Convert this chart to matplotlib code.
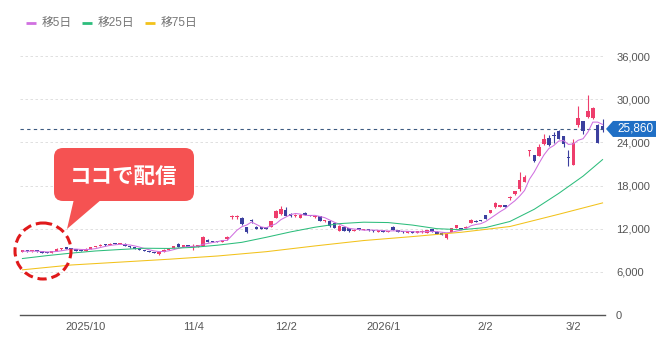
import numpy as np
import pandas as pd
import matplotlib.pyplot as plt
from matplotlib.patches import FancyBboxPatch, Polygon, Circle

plt.rcParams['font.family'] = ['Liberation Sans', 'Noto Sans CJK JP', 'DejaVu Sans']

# daily candles (yen)
opens = [8820, 8880, 8840, 8900, 8800, 8660, 8650, 8950, 9150, 9300,
         9220, 9100, 8960, 8950, 9200, 9450, 9600, 9800, 9700, 9950,
         9850, 9900, 9600, 9420, 9220, 9030, 8900, 8760, 8500, 8800,
         9080, 9350, 9900, 9500, 9620, 9450, 9500, 9600, 10450, 10300,
         10250, 10150, 10500, 13650, 13650, 13500, 12250, 13050, 12300, 12200,
         12150, 12300, 13500, 14000, 14650, 14100, 13750, 13500, 14200, 13850,
         13600, 13700, 13000, 13000, 12800, 11700, 12200, 12100, 11700, 11950,
         11800, 11900, 11800, 11600, 11700, 11550, 12300, 11800, 11650, 11450,
         11600, 11450, 11500, 11400, 11900, 11600, 11450, 10700, 11600, 12100,
         12100, 12100, 12800, 13100, 13200, 13900, 14200, 14950, 15000, 15250,
         16200, 16750, 17450, 18500, 22750, 22200, 22100, 23700, 24550, 24950,
         25550, 24850, 22000, 20900, 26350, 26950, 27550, 27450, 26350, 26300]
closes = [8880, 8840, 8900, 8830, 8650, 8600, 8900, 9180, 9300, 9220,
          9160, 8960, 8920, 9200, 9450, 9600, 9750, 9700, 9880, 9850,
          9920, 9620, 9420, 9220, 9030, 8900, 8760, 8620, 8780, 9080,
          9330, 9600, 9520, 9600, 9500, 9550, 9580, 10880, 10200, 10150,
          10150, 10420, 10900, 13700, 13720, 12600, 11600, 13000, 12000, 12000,
          12020, 13000, 14400, 14800, 13800, 13700, 13850, 13950, 13950, 13750,
          13750, 13100, 13100, 12350, 12150, 12400, 11700, 11650, 11850, 11850,
          11900, 11750, 11650, 11750, 11600, 11650, 11850, 11600, 11500, 11550,
          11450, 11550, 11700, 11800, 11600, 11300, 11150, 11300, 12050, 12500,
          11950, 12300, 13200, 12950, 13050, 13400, 14600, 15500, 15300, 15050,
          16300, 17200, 18800, 19200, 22850, 21400, 23400, 24500, 23600, 24900,
          24500, 23700, 21850, 23950, 27450, 25550, 28350, 28750, 23950, 25860]
highs = [8930, 8920, 8950, 8930, 8830, 8700, 8950, 9250, 9350, 9350,
         9280, 9150, 9020, 9250, 9500, 9650, 9800, 9850, 9950, 10000,
         9980, 9950, 9650, 9450, 9250, 9060, 8930, 8800, 8820, 9120,
         9380, 9650, 9950, 9650, 9660, 9800, 9650, 10950, 10500, 10350,
         10300, 10480, 11000, 13950, 13950, 13600, 12300, 13300, 12350, 12250,
         12200, 13100, 14650, 15100, 15000, 14150, 14100, 14000, 14250, 13900,
         13800, 13750, 13150, 13050, 12850, 12450, 12250, 12150, 11900, 12000,
         11950, 11950, 11850, 11800, 11750, 11700, 12350, 11850, 11700, 11600,
         11650, 11600, 11750, 11850, 11950, 11650, 11500, 11350, 12100, 12550,
         12150, 12350, 13300, 13150, 13250, 13950, 14650, 15700, 15350, 15300,
         16600, 17300, 19900, 19500, 22900, 22250, 23700, 25200, 25000, 25400,
         25700, 24900, 23000, 24500, 29100, 27000, 30550, 28900, 26600, 27300]
lows = [8790, 8800, 8810, 8800, 8610, 8550, 8620, 8920, 9100, 9180,
        9120, 8920, 8870, 8920, 9150, 9400, 9550, 9650, 9680, 9800,
        9800, 9580, 9380, 9180, 8980, 8860, 8720, 8580, 8380, 8760,
        9050, 9300, 9480, 9450, 9450, 9100, 9450, 9550, 10150, 10100,
        10100, 10100, 10450, 13400, 13400, 12500, 11450, 12800, 11950, 11950,
        11980, 12250, 13450, 13950, 13750, 13650, 13600, 13450, 13900, 13700,
        13550, 13050, 12950, 12300, 12100, 11650, 11650, 11600, 11650, 11800,
        11750, 11700, 11600, 11550, 11550, 11500, 11800, 11550, 11450, 11400,
        11400, 11400, 11450, 11350, 11550, 11250, 11100, 10600, 11550, 12050,
        11900, 12050, 12750, 12900, 13000, 13350, 14150, 14900, 14950, 15000,
        16000, 16700, 17300, 18450, 22100, 21300, 22050, 23650, 23500, 23900,
        24450, 23400, 20700, 20800, 26100, 25100, 27400, 27300, 23900, 25500]

# 25-day and 75-day averages, read at a few points
ma25_idx = [0, 5, 10, 15, 20, 25, 30, 35, 40, 45, 50, 55, 60,
            65, 70, 75, 80, 85, 90, 95, 100, 105, 110, 115, 119]
ma25_val = [7850, 8250, 8600, 8900, 9100, 9280, 9250, 9400, 9700, 10100, 10800, 11550, 12200,
            12700, 12900, 12850, 12500, 12000, 11850, 12150, 13000, 14700, 16900, 19300, 21600]
ma75_idx = [0, 10, 20, 30, 40, 50, 60, 70, 80, 90, 100, 110, 119]
ma75_val = [6280, 6950, 7350, 7750, 8200, 8800, 9600, 10350, 10900, 11500, 12300, 14000, 15580]

tick_idx = [13, 35, 54, 74, 95, 113]
tick_lab = ["2025/10", "11/4", "12/2", "2026/1", "2/2", "3/2"]
yticks = [0, 6000, 12000, 18000, 24000, 30000, 36000]

UP, DOWN = "#ee3d6c", "#3b3f9e"
C5, C25, C75 = "#d070e0", "#2dbd7c", "#f2c21b"

o, c, h, l = map(np.array, (opens, closes, highs, lows))
x = np.arange(len(c))
up = c >= o
col = np.where(up, UP, DOWN)

fig = plt.figure(figsize=(6.68, 3.45), dpi=100)
ax = fig.add_axes([20/668, 30/345, 585/668, 259/345])

ax.vlines(x, l, h, colors=col, lw=0.8, zorder=2)
body = np.maximum(np.abs(c - o), 180)
ax.bar(x, body, bottom=np.minimum(o, c), width=0.72, color=col, zorder=2)

ma5 = pd.Series(c).rolling(5, min_periods=1).mean()
ax.plot(x, ma5, color=C5, lw=0.75, zorder=3)
ax.plot(ma25_idx, ma25_val, color=C25, lw=0.75, zorder=3)
ax.plot(ma75_idx, ma75_val, color=C75, lw=0.75, zorder=3)

ax.axhline(c[-1], color="#3d5a80", lw=0.8, ls=(0, (3, 3)), zorder=1)

ax.set_xlim(-0.5, len(c) - 0.5)
ax.set_ylim(0, 36000)
ax.set_xticks(tick_idx)
ax.set_xticklabels(tick_lab)
ax.set_yticks(yticks)
ax.set_yticklabels(["{:,}".format(v) for v in yticks])
ax.yaxis.tick_right()
ax.tick_params(axis='y', length=0, pad=8, labelsize=8, labelcolor="#555555")
ax.tick_params(axis='x', length=0, pad=5, labelsize=8, labelcolor="#555555")
ax.grid(axis='y', color="#dadada", lw=0.6, ls=(0, (3, 3)))
ax.set_axisbelow(True)
for s in ["left", "right", "top"]:
    ax.spines[s].set_visible(False)
ax.spines["bottom"].set_color("#555555")
ax.spines["bottom"].set_linewidth(1)

# overlay in pixel coordinates for legend, callout and price tag
ov = fig.add_axes([0, 0, 1, 1], zorder=5)
ov.set_xlim(0, 668)
ov.set_ylim(345, 0)
ov.axis("off")

for x0, lab, cc in [(26, "移5日", C5), (82, "移25日", C25), (145, "移75日", C75)]:
    ov.plot([x0, x0 + 10], [23, 23], color=cc, lw=2, solid_capstyle="butt")
    ov.text(x0 + 16, 23, lab, color="#777777", fontsize=8.5, va="center", ha="left")

py = 345 - ax.transData.transform((0, c[-1]))[1]
ov.add_patch(Polygon([(606, py), (613, py - 8), (656, py - 8), (656, py + 8), (613, py + 8)],
                     closed=True, color="#1f6fc5", lw=0))
ov.text(635, py, "{:,}".format(c[-1]), color="white", fontsize=8.5, ha="center", va="center")

ov.add_patch(FancyBboxPatch((54, 148), 140, 53, boxstyle="round,pad=0,rounding_size=9",
                            color="#f55252", lw=0))
ov.add_patch(Polygon([(74, 199), (102, 199), (67, 229)], closed=True, color="#f55252", lw=0))
ov.text(124, 176, "ココで配信", color="white", fontsize=15.5, fontweight="bold",
        ha="center", va="center", family=["Noto Sans CJK JP"])
ov.add_patch(Circle((43, 251), 28, fill=False, ec="#e0191b", lw=2.2, ls=(0, (3, 1.6))))

plt.savefig("out.png", dpi=100)
